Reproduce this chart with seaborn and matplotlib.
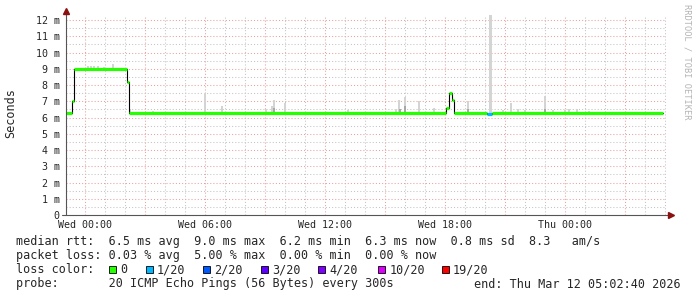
import matplotlib
matplotlib.use("Agg")
import matplotlib.pyplot as plt
import seaborn as sns
import pandas as pd
from matplotlib.patches import Rectangle

# ---------------- data (hours relative to Wed 00:00, values in ms) ----------------
seg_start_h = [-0.955, -0.665, -0.565, 2.085, 2.175, 18.05, 18.175, 18.335, 18.435, 20.08, 20.33]
seg_end_h = [-0.665, -0.565, 2.085, 2.175, 18.05, 18.175, 18.335, 18.435, 20.08, 20.33, 28.9]
seg_median_ms = [6.26, 7.0, 9.0, 8.2, 6.27, 6.6, 7.5, 7.1, 6.27, 6.22, 6.27]
seg_loss_idx = [0, 0, 0, 0, 0, 0, 0, 0, 0, 1, 0]

smoke_h = [0.15, 0.30, 0.45, 0.62, 0.95, 1.38, 2.22, 3.4, 6.0, 6.85, 9.03, 9.33, 9.45, 10.0,
           13.13, 15.55, 15.7, 16.0, 16.7, 17.45, 19.13, 20.22, 20.30, 20.9, 21.28, 21.65,
           22.0, 23.0, 23.4, 24.0, 24.2, 24.6, 25.2]
smoke_lo = [9.0, 9.0, 9.0, 9.0, 9.0, 9.0, 6.27, 6.27, 6.27, 6.27, 6.27, 6.27, 6.27, 6.27,
            6.27, 6.27, 6.27, 6.27, 6.27, 6.27, 6.27, 6.22, 6.22, 6.27, 6.27, 6.27,
            6.27, 6.27, 6.27, 6.27, 6.27, 6.27, 6.27]
smoke_hi = [9.15, 9.18, 9.18, 9.15, 9.12, 9.3, 6.55, 6.42, 7.5, 6.7, 6.5, 6.7, 7.1, 6.9,
            6.45, 6.5, 7.1, 7.25, 7.0, 6.6, 7.0, 12.3, 12.3, 6.45, 6.9, 6.55,
            6.45, 7.3, 6.45, 6.45, 6.5, 6.5, 6.4]
dense_h = [9.45, 15.75, 16.0, 19.13, 23.0]
dense_hi = [6.6, 6.5, 6.7, 6.5, 6.5]

loss_labels = ["0", "1/20", "2/20", "3/20", "4/20", "10/20", "19/20"]
loss_colors = ["#26ff00", "#00b8ff", "#0059ff", "#5e00ff", "#7e00ff", "#dd00ff", "#ff0000"]

x_tick_h = [0, 6, 12, 18, 24]
x_tick_labels = ["Wed 00:00", "Wed 06:00", "Wed 12:00", "Wed 18:00", "Thu 00:00"]
y_ticks = list(range(13))
y_tick_labels = ["0"] + [f"{v} m" for v in range(1, 13)]

legend_rtt = "median rtt:  6.5 ms avg  9.0 ms max  6.2 ms min  6.3 ms now  0.8 ms sd  8.3   am/s"
legend_loss = "packet loss: 0.03 % avg  5.00 % max  0.00 % min  0.00 % now"
legend_probe = "probe:       20 ICMP Echo Pings (56 Bytes) every 300s"
legend_end = "end: Thu Mar 12 05:02:40 2026"

X_MIN, X_MAX = -0.9556, 29.0444
Y_MAX = 12.31

# ---------------- figure ----------------
sns.set_style("white")
plt.rcParams['font.family'] = ['DejaVu Sans Mono', 'DejaVu Sans']
W, H = 697, 297
fig = plt.figure(figsize=(W / 100, H / 100), dpi=100)
fig.patch.set_facecolor("white")
ax = fig.add_axes([66 / W, 1 - 215 / H, 600 / W, 200 / H])
ax.set_xlim(X_MIN, X_MAX)
ax.set_ylim(0, Y_MAX)
for s in ax.spines.values():
    s.set_visible(False)

def fx(px):
    return px / W

def fy(py):
    return 1 - py / H

# grid
minor_col = "#c4c4c4"
major_col = "#e6a2a2"
dots = (0, (1, 2))
for h in range(0, 30):
    col = major_col if h % 3 == 0 else minor_col
    ax.axvline(h, color=col, lw=0.75, ls=dots, zorder=1)
for k in range(1, 25):
    v = k / 2
    if v > Y_MAX:
        continue
    col = major_col if k % 2 == 0 else minor_col
    ax.axhline(v, color=col, lw=0.75, ls=dots, zorder=1)

# smoke
ax.bar(smoke_h, [hi - lo for hi, lo in zip(smoke_hi, smoke_lo)], bottom=smoke_lo,
       width=0.1, color="#d4d4d4", linewidth=0, zorder=2)
ax.bar(dense_h, [hi - 6.27 for hi in dense_hi], bottom=6.27,
       width=0.1, color="#a8a8a8", linewidth=0, zorder=2)

# median black step line
med_df = pd.DataFrame({"h": seg_start_h + [seg_end_h[-1]],
                       "ms": seg_median_ms + [seg_median_ms[-1]]})
sns.lineplot(data=med_df, x="h", y="ms", ax=ax, color="black", lw=0.8,
             drawstyle="steps-post", estimator=None, sort=False, zorder=3)

# loss coloured median segments
ax.hlines(seg_median_ms, seg_start_h, seg_end_h,
          colors=[loss_colors[i] for i in seg_loss_idx], lw=2.3, zorder=4,
          capstyle="butt")

ax.set_xlabel("")
ax.set_ylabel("")
ax.set_xticks(x_tick_h)
ax.set_xticklabels(x_tick_labels, fontsize=7.2, family="DejaVu Sans Mono")
ax.set_yticks(y_ticks)
ax.set_yticklabels(y_tick_labels, fontsize=7.2, family="DejaVu Sans Mono")
ax.tick_params(axis="x", length=0, pad=3.3)
ax.tick_params(axis="y", length=0, pad=4.5)

# axes lines and arrows
axis_col = "#555555"
ax.plot([0, 0], [0, 1 + 5 / 200], transform=ax.transAxes, color=axis_col, lw=0.8,
        clip_on=False, zorder=5)
ax.plot([-4 / 600, 1 + 5 / 600], [0, 0], transform=ax.transAxes, color=axis_col, lw=0.8,
        clip_on=False, zorder=5)
ax.plot([0], [1 + 4.5 / 200], transform=ax.transAxes, marker="^", ms=4.2,
        color="#8b1010", clip_on=False, zorder=6)
ax.plot([1 + 4.5 / 600], [0], transform=ax.transAxes, marker=">", ms=4.2,
        color="#8b1010", clip_on=False, zorder=6)

# y axis title and watermark
fig.text(fx(11), fy(113), "Seconds", rotation=90, ha="center", va="center",
         fontsize=8.5, family="DejaVu Sans Mono")
fig.text(fx(687), fy(4), "RRDTOOL / TOBI OETIKER", rotation=270, ha="center", va="top",
         fontsize=6.2, family="DejaVu Sans Mono", color="#b4b4b4")

# legend
LF = 8.5
fig.text(fx(16), fy(245.5), legend_rtt, fontsize=LF, va="baseline")
fig.text(fx(16), fy(259.5), legend_loss, fontsize=LF, va="baseline")
fig.text(fx(16), fy(273.3), "loss color:", fontsize=LF, va="baseline")
box_x = [109, 145.7, 203.3, 261, 318.3, 378.3, 441.7]
for bx, lab, col in zip(box_x, loss_labels, loss_colors):
    fig.add_artist(Rectangle((fx(bx), fy(272.7)), 7 / W, 7 / H, transform=fig.transFigure,
                             facecolor=col, edgecolor="black", lw=0.6))
    fig.text(fx(bx + 11), fy(273.3), lab, fontsize=LF, va="baseline")
fig.text(fx(16), fy(287.5), legend_probe, fontsize=LF, va="baseline")
fig.text(fx(681), fy(287.5), legend_end, fontsize=LF, va="baseline", ha="right")

fig.savefig("out.png", dpi=100, facecolor="white")
